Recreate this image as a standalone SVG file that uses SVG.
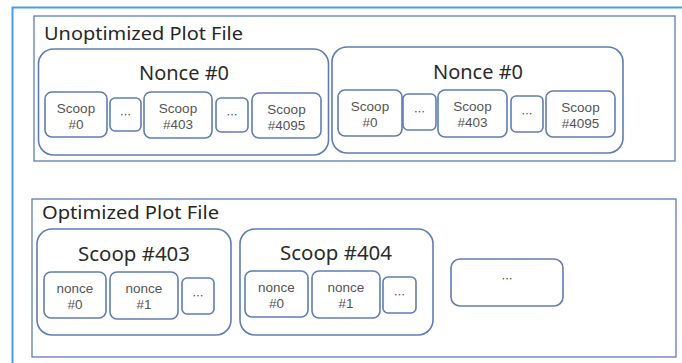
<svg xmlns="http://www.w3.org/2000/svg" width="682" height="363" viewBox="0 0 682 363">
  <style>
    .frame { fill: none; stroke: #4c9bf2; stroke-width: 2; }
    .file { fill: #ffffff; stroke: #5f7db4; stroke-width: 1.3; }
    .group { fill: #ffffff; stroke: #5f7db4; stroke-width: 1.6; }
    .cell { fill: #ffffff; stroke: #5f7db4; stroke-width: 1.6; }
    .title { font-family: "Noto Sans", "Open Sans", sans-serif; font-size: 18px; fill: #262626; }
    .head { font-family: "Noto Sans", "Open Sans", sans-serif; font-size: 19px; fill: #2b2b2b; text-anchor: middle; }
    .lbl { font-family: "Liberation Sans", Arial, sans-serif; font-size: 13.5px; fill: #555555; text-anchor: middle; }
    .dots { font-family: "Noto Sans CJK SC", "Noto Sans", sans-serif; font-size: 11px; fill: #4a4a4a; text-anchor: middle; }
  </style>

  <!-- page frame -->
  <path class="frame" d="M12.5 363 V7.5 H682"/>

  <!-- unoptimized layout: nonces hold scoops -->
  <g id="unoptimized-file">
    <rect class="file" x="34" y="16" width="641" height="145"/>
    <text class="title" x="44" y="40" textLength="199" lengthAdjust="spacingAndGlyphs">Unoptimized Plot File</text>
  </g>

  <g id="nonce-0-a">
    <rect class="group" x="38.5" y="49" width="290" height="106" rx="15"/>
    <text class="head" x="184" y="80" textLength="90" lengthAdjust="spacingAndGlyphs">Nonce #0</text>
    <g id="nonce-0-a-scoop-0">
      <rect class="cell" x="45" y="92" width="62" height="45" rx="7"/>
      <text class="lbl" x="76" y="113">Scoop</text>
      <text class="lbl" x="76" y="129">#0</text>
    </g>
    <g id="nonce-0-a-gap-1">
      <rect class="cell" x="110" y="98" width="31" height="33" rx="5"/>
      <text class="dots" x="125.5" y="119">…</text>
    </g>
    <g id="nonce-0-a-scoop-403">
      <rect class="cell" x="144" y="92" width="68" height="46" rx="7"/>
      <text class="lbl" x="178" y="113">Scoop</text>
      <text class="lbl" x="178" y="129">#403</text>
    </g>
    <g id="nonce-0-a-gap-2">
      <rect class="cell" x="216" y="98" width="32" height="34" rx="5"/>
      <text class="dots" x="232" y="119">…</text>
    </g>
    <g id="nonce-0-a-scoop-4095">
      <rect class="cell" x="252" y="93" width="69" height="45" rx="7"/>
      <text class="lbl" x="286.5" y="114">Scoop</text>
      <text class="lbl" x="286.5" y="130">#4095</text>
    </g>
  </g>

  <g id="nonce-0-b">
    <rect class="group" x="332" y="47" width="291" height="106" rx="15"/>
    <text class="head" x="478" y="79" textLength="90" lengthAdjust="spacingAndGlyphs">Nonce #0</text>
    <g id="nonce-0-b-scoop-0">
      <rect class="cell" x="338" y="90" width="64" height="46" rx="7"/>
      <text class="lbl" x="370" y="111">Scoop</text>
      <text class="lbl" x="370" y="127">#0</text>
    </g>
    <g id="nonce-0-b-gap-1">
      <rect class="cell" x="403" y="94" width="33" height="36" rx="5"/>
      <text class="dots" x="419.5" y="116">…</text>
    </g>
    <g id="nonce-0-b-scoop-403">
      <rect class="cell" x="438" y="90" width="69" height="47" rx="7"/>
      <text class="lbl" x="472.5" y="111">Scoop</text>
      <text class="lbl" x="472.5" y="127">#403</text>
    </g>
    <g id="nonce-0-b-gap-2">
      <rect class="cell" x="511" y="96" width="32" height="36" rx="5"/>
      <text class="dots" x="527" y="118">…</text>
    </g>
    <g id="nonce-0-b-scoop-4095">
      <rect class="cell" x="546" y="91" width="69" height="46" rx="7"/>
      <text class="lbl" x="580.5" y="112">Scoop</text>
      <text class="lbl" x="580.5" y="128">#4095</text>
    </g>
  </g>

  <!-- optimized layout: scoops hold nonces -->
  <g id="optimized-file">
    <rect class="file" x="32" y="199" width="644" height="158"/>
    <text class="title" x="42" y="219" textLength="177" lengthAdjust="spacingAndGlyphs">Optimized Plot File</text>
  </g>

  <g id="scoop-403">
    <rect class="group" x="37" y="229" width="194" height="106" rx="15"/>
    <text class="head" x="134" y="261" textLength="112" lengthAdjust="spacingAndGlyphs">Scoop #403</text>
    <g id="scoop-403-nonce-0">
      <rect class="cell" x="44" y="272" width="62" height="46" rx="7"/>
      <text class="lbl" x="75" y="293">nonce</text>
      <text class="lbl" x="75" y="309">#0</text>
    </g>
    <g id="scoop-403-nonce-1">
      <rect class="cell" x="110" y="272" width="68" height="47" rx="7"/>
      <text class="lbl" x="144" y="293">nonce</text>
      <text class="lbl" x="144" y="309">#1</text>
    </g>
    <g id="scoop-403-gap">
      <rect class="cell" x="182" y="278" width="32" height="36" rx="5"/>
      <text class="dots" x="198" y="300">…</text>
    </g>
  </g>

  <g id="scoop-404">
    <rect class="group" x="240" y="229" width="193" height="106" rx="15"/>
    <text class="head" x="336" y="260" textLength="112" lengthAdjust="spacingAndGlyphs">Scoop #404</text>
    <g id="scoop-404-nonce-0">
      <rect class="cell" x="245" y="271" width="63" height="46" rx="7"/>
      <text class="lbl" x="276.5" y="292">nonce</text>
      <text class="lbl" x="276.5" y="308">#0</text>
    </g>
    <g id="scoop-404-nonce-1">
      <rect class="cell" x="312" y="271" width="68" height="47" rx="7"/>
      <text class="lbl" x="346" y="292">nonce</text>
      <text class="lbl" x="346" y="308">#1</text>
    </g>
    <g id="scoop-404-gap">
      <rect class="cell" x="383" y="277" width="33" height="36" rx="5"/>
      <text class="dots" x="399.5" y="299">…</text>
    </g>
  </g>

  <g id="more-scoops">
    <rect class="cell" x="451" y="259" width="112" height="47" rx="9"/>
    <text class="dots" x="507" y="283">…</text>
  </g>
</svg>
